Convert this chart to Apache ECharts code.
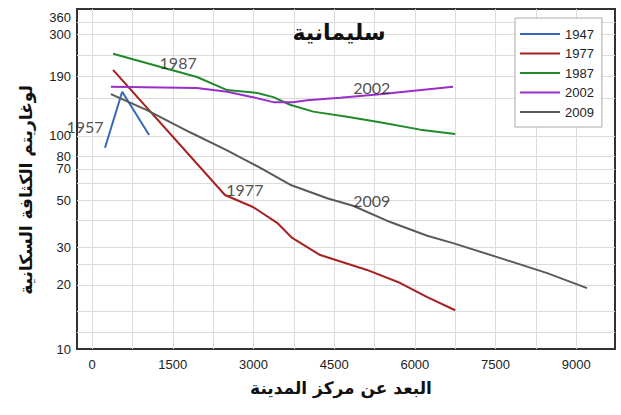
<!DOCTYPE html>
<html><head><meta charset="utf-8">
<script src="https://cdn.jsdelivr.net/npm/echarts@6/dist/echarts.min.js"></script>
<style>html,body{margin:0;padding:0;background:#fff}#c{width:621px;height:415px}</style>
</head><body><div id="c"></div>
<script>
const years = ['1947', '1977', '1987', '2002', '2009'];
const dist1947 = [240, 560, 1060];
const dens1947 = [88, 161, 101];
const dist1977 = [390, 2470, 2990, 3440, 3720, 4240, 5110, 5730, 6230, 6750];
const dens1977 = [204, 52.8, 46.4, 39.1, 33.2, 27.6, 23.5, 20.4, 17.5, 15.2];
const dist1987 = [390, 1260, 1950, 2510, 3070, 3370, 3680, 4110, 4740, 5350, 6100, 6750];
const dens1987 = [243, 211, 189, 164, 159, 152, 140, 130, 123, 116, 107, 102];
const dist2002 = [350, 1950, 2510, 2990, 3370, 3740, 4000, 4610, 5350, 6710];
const dens2002 = [170, 168, 161, 152, 144, 144, 147, 151, 157, 170];
const dist2009 = [350, 1020, 1820, 2490, 3120, 3680, 4370, 4850, 5480, 6230, 6710, 7590, 8460, 9200];
const dens2009 = [157, 132, 104, 86, 71, 59, 51, 47, 40, 34, 31.4, 26.7, 22.7, 19.3];

const xTickLabels = [0, 1500, 3000, 4500, 6000, 7500, 9000];
const xGridValues = [0, 750, 1500, 2250, 3000, 3750, 4500, 5250, 6000, 6750, 7500, 8250, 9000];
const yTickLabels = [10, 20, 30, 50, 70, 80, 100, 190, 300, 360];
const yGridValues = [12, 15, 20, 25, 30, 40, 50, 60, 70, 80, 100, 150, 190, 240, 300, 340];

const noteTexts = ['1957', '1987', '2002', '1977', '2009'];
const noteX = [-130, 1600, 5200, 2840, 5200];
const noteY = [111, 222, 168, 56, 50];

const titleText = 'سليمانية';
const xName = 'البعد عن مركز المدينة';
const yName = 'لوغاريتم الكثافة السكانية';

const colors = ['#3468b8', '#a82020', '#1f8a2a', '#9a2ec8', '#5a5a5a'];
const dists = [dist1947, dist1977, dist1987, dist2002, dist2009];
const dens = [dens1947, dens1977, dens1987, dens2002, dens2009];

const series = [{
  name: 'gridlines',
  type: 'line',
  data: [],
  silent: true,
  z: 0,
  markLine: {
    z: 0,
    silent: true,
    symbol: ['none', 'none'],
    label: { show: false },
    animation: false,
    lineStyle: { color: '#dcdcdc', width: 1, type: 'solid' },
    emphasis: { disabled: true },
    data: yGridValues.map(v => ({ yAxis: v })).concat(xGridValues.map(v => ({ xAxis: v })))
  }
}];
years.forEach((y, i) => series.push({
  name: y,
  type: 'line',
  symbol: 'none',
  smooth: false,
  data: dists[i].map((d, j) => [d, dens[i][j]]),
  lineStyle: { color: colors[i], width: 2 },
  itemStyle: { color: colors[i] },
  z: 3
}));
series.push({
  name: 'notes',
  type: 'scatter',
  symbolSize: 0,
  data: noteTexts.map((t, i) => [noteX[i], noteY[i], t]),
  label: {
    show: true, position: 'inside',
    formatter: p => p.data[2],
    fontFamily: 'Lato, "Open Sans", sans-serif', fontSize: 16, color: '#222'
  },
  silent: true,
  z: 4
});

const chart = echarts.init(document.getElementById('c'), null, { renderer: 'svg' });
chart.setOption({
  animation: false,
  backgroundColor: '#fff',
  grid: { left: 77, right: 6, top: 9, bottom: 66, show: true, borderColor: '#333', borderWidth: 2, backgroundColor: 'transparent' },
  xAxis: {
    type: 'value', min: -280, max: 9720,
    axisLine: { show: false },
    axisTick: { show: false },
    axisLabel: { customValues: xTickLabels, formatter: v => String(v), margin: 9, fontFamily: '"Liberation Sans", Arial, sans-serif', fontSize: 13, color: '#222' },
    splitLine: { show: false }
  },
  yAxis: {
    type: 'log', logBase: 10, min: 10, max: 394,
    axisLine: { show: false },
    axisTick: { show: false },
    axisLabel: { customValues: yTickLabels, formatter: v => String(v), margin: 6, fontFamily: '"Liberation Sans", Arial, sans-serif', fontSize: 13, color: '#222' },
    splitLine: { show: false }
  },
  legend: {
    data: years,
    orient: 'vertical',
    left: 515, top: 18,
    z: 20,
    padding: [9, 8, 8, 5],
    itemWidth: 40, itemHeight: 2,
    icon: 'rect',
    itemGap: 5.5,
    backgroundColor: '#fff',
    borderColor: '#aaa', borderWidth: 1,
    textStyle: { fontFamily: '"Liberation Sans", Arial, sans-serif', fontSize: 13, color: '#222', lineHeight: 14 }
  },
  graphic: [
    { type: 'text', x: 339, y: 32, z: 10, style: { text: titleText, align: 'center', verticalAlign: 'middle', font: 'bold 22px "DejaVu Sans", sans-serif', fill: '#111' } },
    { type: 'text', x: 341, y: 388, z: 10, style: { text: xName, align: 'center', verticalAlign: 'middle', font: 'bold 17px "DejaVu Sans", sans-serif', fill: '#111' } },
    { type: 'text', x: 26, y: 190, rotation: Math.PI / 2, z: 10, style: { text: yName, align: 'center', verticalAlign: 'middle', font: 'bold 17px "DejaVu Sans", sans-serif', fill: '#111' } }
  ],
  series: series
});
</script></body></html>
